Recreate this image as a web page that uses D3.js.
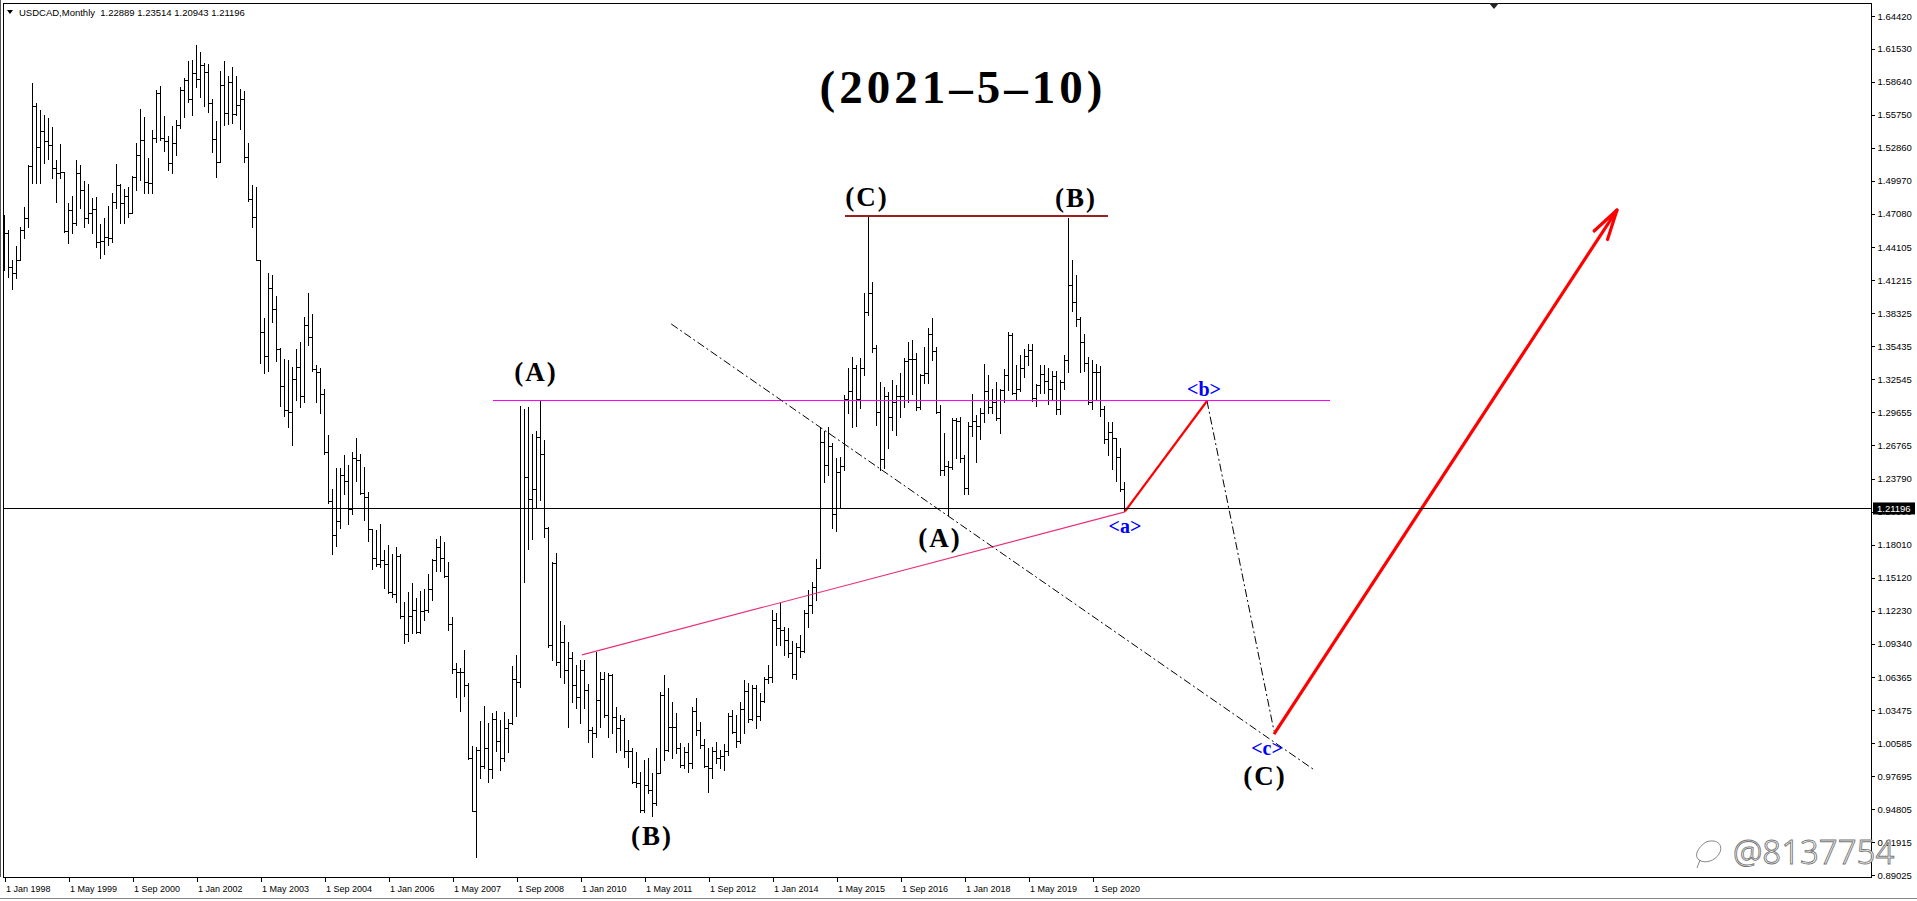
<!DOCTYPE html>
<html><head><meta charset="utf-8">
<script src="https://cdn.jsdelivr.net/npm/d3@7"></script>
<style>html,body{margin:0;padding:0;background:#fff;overflow:hidden}</style>
</head><body>
<svg id="c" width="1917" height="901"></svg>
<script>
// ---- data: USDCAD monthly bars, Jan 1998 .. May 2021 ----
const symbolTitle = "USDCAD,Monthly";
const lastQuote = [1.22889, 1.23514, 1.20943, 1.21196];
const opens = [
1.4290,1.4540,1.4238,1.4183,1.4300,1.4564,1.4666,1.5125,1.5652,1.5295,1.5433,1.5345,
1.5310,1.5105,1.5060,1.5076,1.4555,1.4740,1.4628,1.5061,1.4915,1.4672,1.4716,1.4745,
1.4461,1.4467,1.4499,1.4490,1.4812,1.4959,1.4798,1.4865,1.4716,1.5030,1.5222,1.5354,
1.4988,1.4973,1.5368,1.5769,1.5370,1.5345,1.5155,1.5330,1.5485,1.5792,1.5880,1.5711,
1.5939,1.5886,1.6012,1.5948,1.5681,1.5359,1.5163,1.5836,1.5588,1.5865,1.5582,1.5661,
1.5711,1.5207,1.4833,1.4675,1.4300,1.3670,1.3458,1.4052,1.3868,1.3520,1.3191,1.2983,
1.2965,1.3260,1.3364,1.3104,1.3729,1.3625,1.3347,1.3319,1.3121,1.2618,1.2184,1.1889,
1.2011,1.2410,1.2358,1.2115,1.2566,1.2549,1.2254,1.2219,1.1941,1.1688,1.1629,1.1664,
1.1630,1.1386,1.1369,1.1698,1.1178,1.1022,1.1178,1.1230,1.1039,1.1223,1.1230,1.1410,
1.1664,1.1785,1.1681,1.1525,1.1108,1.0709,1.0682,1.0682,1.0571,0.9928,0.9460,1.0000,
0.9859,1.0020,0.9830,1.0270,1.0080,0.9930,1.0190,1.0240,1.0620,1.0600,1.2125,1.2393,
1.2202,1.2289,1.2750,1.2600,1.1945,1.0920,1.1638,1.0775,1.0950,1.0702,1.0810,1.0570,
1.0468,1.0702,1.0526,1.0175,1.0150,1.0438,1.0620,1.0307,1.0660,1.0290,1.0190,1.0260,
0.9990,0.9990,0.9720,0.9706,0.9470,0.9690,0.9648,0.9531,0.9795,1.0480,0.9999,1.0204,
1.0198,1.0020,0.9870,0.9980,0.9882,1.0340,1.0175,1.0043,0.9860,0.9838,0.9990,0.9930,
0.9950,0.9990,1.0300,1.0160,1.0080,1.0360,1.0520,1.0270,1.0540,1.0300,1.0430,1.0620,
1.0640,1.1140,1.1070,1.1050,1.0965,1.0850,1.0670,1.0900,1.0870,1.1200,1.1270,1.1430,
1.1600,1.2700,1.2500,1.2665,1.2070,1.2440,1.2490,1.3080,1.3150,1.3350,1.3080,1.3350,
1.3840,1.4010,1.3530,1.2970,1.2550,1.3110,1.2920,1.3050,1.3110,1.3110,1.3410,1.3430,
1.3430,1.3010,1.3290,1.3310,1.3650,1.3500,1.2970,1.2460,1.2490,1.2480,1.2900,1.2890,
1.2560,1.2300,1.2840,1.2890,1.2840,1.2960,1.3150,1.3010,1.3050,1.2910,1.3160,1.3290,
1.3640,1.3130,1.3170,1.3350,1.3460,1.3510,1.3090,1.3200,1.3300,1.3240,1.3170,1.3280,
1.2990,1.3230,1.3420,1.4080,1.3930,1.3780,1.3580,1.3400,1.3050,1.3320,1.3320,1.2990,
1.2730,1.2790,1.2740,1.2570,1.22889];
const highs = [
1.4695,1.4564,1.4300,1.4423,1.4593,1.4763,1.5134,1.5857,1.5681,1.5617,1.5573,1.5550,
1.5471,1.5178,1.5319,1.5076,1.4798,1.4862,1.5178,1.5134,1.4994,1.4967,1.4841,1.4856,
1.4616,1.4672,1.4777,1.4891,1.5143,1.4967,1.4921,1.4944,1.5040,1.5325,1.5626,1.5553,
1.5193,1.5442,1.5792,1.5827,1.5564,1.5389,1.5477,1.5529,1.5816,1.5895,1.6047,1.6056,
1.6187,1.6126,1.6026,1.6021,1.5711,1.5523,1.5959,1.6047,1.5915,1.5997,1.5915,1.5798,
1.5784,1.5324,1.4959,1.4944,1.4301,1.3791,1.4187,1.4173,1.3982,1.3527,1.3434,1.3423,
1.3364,1.3520,1.3583,1.3798,1.4013,1.3826,1.3382,1.3354,1.3166,1.2764,1.2288,1.2479,
1.2479,1.2590,1.2497,1.2618,1.2736,1.2601,1.2486,1.2264,1.1941,1.1931,1.1987,1.1757,
1.1803,1.1716,1.1778,1.1720,1.1299,1.1386,1.1466,1.1334,1.1396,1.1410,1.1542,1.1674,
1.1848,1.1882,1.1827,1.1646,1.1167,1.0761,1.0716,1.0876,1.0588,1.0033,1.0022,1.0258,
1.0390,1.0241,1.0320,1.0345,1.0265,1.0334,1.0276,1.0737,1.0831,1.3017,1.2995,1.3010,
1.2777,1.2800,1.3066,1.2721,1.1960,1.1653,1.1732,1.1135,1.1097,1.0950,1.0862,1.0746,
1.0790,1.0790,1.0579,1.0204,1.0863,1.0687,1.0687,1.0672,1.0670,1.0380,1.0307,1.0277,
1.0087,1.0014,0.9985,0.9809,0.9912,0.9926,0.9794,1.0014,1.0511,1.0658,1.0540,1.0423,
1.0321,1.0058,1.0029,1.0058,1.0380,1.0453,1.0248,1.0093,1.0014,1.0029,1.0073,0.9999,
1.0050,1.0321,1.0351,1.0307,1.0423,1.0614,1.0585,1.0570,1.0570,1.0497,1.0643,1.0745,
1.1228,1.1199,1.1287,1.1082,1.1067,1.0959,1.0936,1.1009,1.1228,1.1404,1.1477,1.1673,
1.2832,1.2800,1.2835,1.2691,1.2560,1.2574,1.3115,1.3349,1.3452,1.3380,1.3437,1.4008,
1.4690,1.4110,1.3554,1.3233,1.3189,1.3145,1.3247,1.3203,1.3306,1.3437,1.3584,1.3598,
1.3481,1.3300,1.3540,1.3700,1.3790,1.3540,1.3030,1.2780,1.2540,1.2911,1.2915,1.2920,
1.2590,1.2880,1.3120,1.2940,1.3000,1.3390,1.3290,1.3170,1.3230,1.3170,1.3340,1.3665,
1.3660,1.3380,1.3470,1.3520,1.3560,1.3560,1.3210,1.3380,1.3380,1.3350,1.3330,1.3330,
1.3250,1.3470,1.4667,1.4300,1.4170,1.3800,1.3650,1.3450,1.3420,1.3390,1.3370,1.3020,
1.2880,1.2880,1.2740,1.2650,1.23514];
const lows = [
1.4213,1.4154,1.4043,1.4139,1.4300,1.4491,1.4593,1.4979,1.4973,1.4973,1.5149,1.5184,
1.5017,1.4813,1.5017,1.4549,1.4447,1.4540,1.4608,1.4754,1.4593,1.4622,1.4535,1.4417,
1.4315,1.4353,1.4432,1.4461,1.4754,1.4622,1.4622,1.4681,1.4710,1.4915,1.5003,1.4886,
1.4886,1.4891,1.5340,1.5354,1.5260,1.5090,1.5061,1.5222,1.5456,1.5553,1.5690,1.5573,
1.5822,1.5734,1.5652,1.5599,1.5251,1.5026,1.5178,1.5485,1.5494,1.5500,1.5570,1.5447,
1.5163,1.4821,1.4587,1.4300,1.3399,1.3305,1.3330,1.3756,1.3416,1.3017,1.2930,1.2833,
1.2681,1.3069,1.3007,1.3052,1.3555,1.3330,1.3052,1.2958,1.2601,1.2167,1.1716,1.1792,
1.1952,1.2243,1.1986,1.2070,1.2358,1.2243,1.2021,1.1837,1.1584,1.1619,1.1610,1.1421,
1.1376,1.1341,1.1299,1.1160,1.0935,1.0959,1.1029,1.1029,1.1030,1.1143,1.1210,1.1317,
1.1570,1.1570,1.1515,1.1050,1.0674,1.0466,1.0345,1.0473,0.9918,0.9460,0.9061,0.9755,
0.9842,0.9720,0.9755,0.9990,0.9824,0.9900,0.9981,1.0230,1.0300,1.0553,1.1475,1.1760,
1.1850,1.2125,1.2194,1.1872,1.0906,1.0789,1.0746,1.0643,1.0585,1.0204,1.0424,1.0365,
1.0234,1.0365,1.0073,0.9935,1.0116,1.0204,1.0292,1.0116,1.0146,0.9985,1.0000,0.9940,
0.9853,0.9707,0.9678,0.9458,0.9458,0.9619,0.9420,0.9516,0.9794,0.9912,0.9990,0.9926,
0.9970,0.9853,0.9840,0.9809,0.9841,1.0131,1.0014,0.9853,0.9634,0.9751,0.9882,0.9838,
0.9824,0.9956,1.0146,1.0029,1.0058,1.0146,1.0248,1.0263,1.0190,1.0263,1.0420,1.0585,
1.0599,1.0921,1.0921,1.0833,1.0819,1.0628,1.0620,1.0819,1.0863,1.1082,1.1199,1.1316,
1.1600,1.2350,1.2410,1.1950,1.1920,1.2121,1.2457,1.2955,1.2837,1.2840,1.3000,1.3291,
1.3820,1.3496,1.2852,1.2460,1.2472,1.2650,1.2808,1.2765,1.2926,1.3013,1.3057,1.3120,
1.2984,1.2995,1.3220,1.3220,1.3420,1.2960,1.2410,1.2410,1.2061,1.2470,1.2560,1.2530,
1.2250,1.2250,1.2760,1.2530,1.2730,1.2880,1.2960,1.2960,1.2900,1.2780,1.3050,1.3160,
1.3120,1.3070,1.3150,1.3270,1.3380,1.3060,1.3015,1.3130,1.3130,1.3040,1.3070,1.2950,
1.2950,1.3170,1.3320,1.3850,1.3720,1.3320,1.3330,1.3040,1.2990,1.3080,1.2930,1.2690,
1.2590,1.2470,1.2360,1.2270,1.20943];
const closes = [
1.4540,1.4238,1.4183,1.4300,1.4564,1.4666,1.5125,1.5652,1.5295,1.5433,1.5345,1.5310,
1.5105,1.5060,1.5076,1.4555,1.4740,1.4628,1.5061,1.4915,1.4672,1.4716,1.4745,1.4461,
1.4467,1.4499,1.4490,1.4812,1.4959,1.4798,1.4865,1.4716,1.5030,1.5222,1.5354,1.4988,
1.4973,1.5368,1.5769,1.5370,1.5345,1.5155,1.5330,1.5485,1.5792,1.5880,1.5711,1.5939,
1.5886,1.6012,1.5948,1.5681,1.5359,1.5163,1.5836,1.5588,1.5865,1.5582,1.5661,1.5711,
1.5207,1.4833,1.4675,1.4300,1.3670,1.3458,1.4052,1.3868,1.3520,1.3191,1.2983,1.2965,
1.3260,1.3364,1.3104,1.3729,1.3625,1.3347,1.3319,1.3121,1.2618,1.2184,1.1889,1.2011,
1.2410,1.2358,1.2115,1.2566,1.2549,1.2254,1.2219,1.1941,1.1688,1.1629,1.1664,1.1630,
1.1386,1.1369,1.1698,1.1178,1.1022,1.1178,1.1230,1.1039,1.1223,1.1230,1.1410,1.1664,
1.1785,1.1681,1.1525,1.1108,1.0709,1.0682,1.0682,1.0571,0.9928,0.9460,1.0000,0.9859,
1.0020,0.9830,1.0270,1.0080,0.9930,1.0190,1.0240,1.0620,1.0600,1.2125,1.2393,1.2202,
1.2289,1.2750,1.2600,1.1945,1.0920,1.1638,1.0775,1.0950,1.0702,1.0810,1.0570,1.0468,
1.0702,1.0526,1.0175,1.0150,1.0438,1.0620,1.0307,1.0660,1.0290,1.0190,1.0260,0.9990,
0.9990,0.9720,0.9706,0.9470,0.9690,0.9648,0.9531,0.9795,1.0480,0.9999,1.0204,1.0198,
1.0020,0.9870,0.9980,0.9882,1.0340,1.0175,1.0043,0.9860,0.9838,0.9990,0.9930,0.9950,
0.9990,1.0300,1.0160,1.0080,1.0360,1.0520,1.0270,1.0540,1.0300,1.0430,1.0620,1.0640,
1.1140,1.1070,1.1050,1.0965,1.0850,1.0670,1.0900,1.0870,1.1200,1.1270,1.1430,1.1600,
1.2700,1.2500,1.2665,1.2070,1.2440,1.2490,1.3080,1.3150,1.3350,1.3080,1.3350,1.3840,
1.4010,1.3530,1.2970,1.2550,1.3110,1.2920,1.3050,1.3110,1.3110,1.3410,1.3430,1.3430,
1.3010,1.3290,1.3310,1.3650,1.3500,1.2970,1.2460,1.2490,1.2480,1.2900,1.2890,1.2560,
1.2300,1.2840,1.2890,1.2840,1.2960,1.3150,1.3010,1.3050,1.2910,1.3160,1.3290,1.3640,
1.3130,1.3170,1.3350,1.3460,1.3510,1.3090,1.3200,1.3300,1.3240,1.3170,1.3280,1.2990,
1.3230,1.3420,1.4080,1.3930,1.3780,1.3580,1.3400,1.3050,1.3320,1.3320,1.2990,1.2730,
1.2790,1.2740,1.2570,1.22889,1.21196];

const priceTicks = [1.64420,1.61530,1.58640,1.55750,1.52860,1.49970,1.47080,1.44105,1.41215,
  1.38325,1.35435,1.32545,1.29655,1.26765,1.23790,1.20900,1.18010,1.15120,1.12230,1.09340,
  1.06365,1.03475,1.00585,0.97695,0.94805,0.91915,0.89025];
const timeTickBars = [0,16,32,48,64,80,96,112,128,144,160,176,192,208,224,240,256,272];
const timeTickLabels = ["1 Jan 1998","1 May 1999","1 Sep 2000","1 Jan 2002","1 May 2003",
  "1 Sep 2004","1 Jan 2006","1 May 2007","1 Sep 2008","1 Jan 2010","1 May 2011","1 Sep 2012",
  "1 Jan 2014","1 May 2015","1 Sep 2016","1 Jan 2018","1 May 2019","1 Sep 2020"];

// annotation objects in (bar index, price)
const magentaLine = [[122.25, 1.3063], [331.5, 1.3063]];
const topLine = [[210.25, 1.4690], [276, 1.4690]];
const pinkTrend = [[144.5, 1.0834], [280.25, 1.2090]];
const dashDot1 = [[166.8, 1.3739], [327.6, 0.9824]];
const dashDot2 = [[300.75, 1.3063], [317.5, 1.0166]];
const redAB = [[280.25, 1.2094], [300.75, 1.3063]];
const redArrow = [[317.5, 1.0140], [403.25, 1.4739]];
const waveLabels = [
  {t:"(A)", b:133, p:1.3317}, {t:"(B)", b:162, p:0.9245},
  {t:"(C)", b:215.75, p:1.4853}, {t:"(B)", b:268, p:1.4844},
  {t:"(A)", b:234, p:1.1860}, {t:"(C)", b:315.25, p:0.9772}];
const subLabels = [{t:"<a>", b:280.25, p:1.1966}, {t:"<b>", b:300, p:1.3168}, {t:"<c>", b:315.75, p:1.0020}];
const titleText = "(2021\u20135\u201310)";

// ---- layout ----
const W = 1917, H = 901;
const plotL = 3, plotR = 1871, plotT = 3, plotB = 877;
const svg = d3.select("#c");
svg.append("rect").attr("width", W).attr("height", H).attr("fill", "#fff");

const x = d3.scaleLinear().domain([0, 466.75]).range([4, 1871]);
const y = d3.scaleLinear().domain([0.89025, 1.64420]).range([875, 16]);

svg.append("clipPath").attr("id", "plot").append("rect")
  .attr("x", plotL).attr("y", plotT).attr("width", plotR - plotL).attr("height", plotB - plotT);

const bars = svg.append("g").attr("clip-path", "url(#plot)")
  .attr("stroke", "#000").attr("stroke-width", 1).attr("shape-rendering", "crispEdges");
const idx = d3.range(closes.length);
const px = i => Math.round(x(i)) + 0.5;
const py = v => Math.round(y(v)) + 0.5;
bars.selectAll("line.hl").data(idx).join("line").attr("class", "hl")
  .attr("x1", px).attr("x2", px)
  .attr("y1", i => Math.round(y(Math.max(highs[i], opens[i], closes[i]))))
  .attr("y2", i => Math.round(y(Math.min(lows[i], opens[i], closes[i]))) + 1);
bars.selectAll("line.o").data(idx).join("line").attr("class", "o")
  .attr("x1", i => px(i) - 2.5).attr("x2", i => px(i))
  .attr("y1", i => py(opens[i])).attr("y2", i => py(opens[i]));
bars.selectAll("line.c").data(idx).join("line").attr("class", "c")
  .attr("x1", i => px(i)).attr("x2", i => px(i) + 2.5)
  .attr("y1", i => py(closes[i])).attr("y2", i => py(closes[i]));

// annotations
const ann = svg.append("g").attr("clip-path", "url(#plot)");
const seg = (pts, color, w, dash) => {
  const l = ann.append("line")
    .attr("x1", x(pts[0][0])).attr("y1", y(pts[0][1]))
    .attr("x2", x(pts[1][0])).attr("y2", y(pts[1][1]))
    .attr("stroke", color).attr("stroke-width", w);
  if (dash) l.attr("stroke-dasharray", dash);
  return l;
};
seg(magentaLine, "#ff00ff", 1).attr("shape-rendering", "crispEdges");
seg(topLine, "#9b2020", 2).attr("shape-rendering", "crispEdges");
seg(pinkTrend, "#e8317a", 1.2);
seg(dashDot1, "#000", 1, "8,3,2,3");
seg(dashDot2, "#000", 1, "8,3,2,3");
seg(redAB, "#ff0000", 2.2);
seg(redArrow, "#ff0000", 3.2);
{
  const tip = [x(redArrow[1][0]), y(redArrow[1][1])];
  const tail = [x(redArrow[0][0]), y(redArrow[0][1])];
  const a = Math.atan2(tail[1] - tip[1], tail[0] - tip[0]);
  [0.25, -0.27].forEach(d => {
    ann.append("line").attr("x1", tip[0]).attr("y1", tip[1])
      .attr("x2", tip[0] + 31 * Math.cos(a + d)).attr("y2", tip[1] + 31 * Math.sin(a + d))
      .attr("stroke", "#ff0000").attr("stroke-width", 3.2).attr("stroke-linecap", "round");
  });
}

// current price line
svg.append("line").attr("x1", plotL).attr("x2", plotR)
  .attr("y1", py(lastQuote[3])).attr("y2", py(lastQuote[3]))
  .attr("stroke", "#000").attr("stroke-width", 1).attr("shape-rendering", "crispEdges");

// labels
const serif = "'Liberation Serif','Times New Roman',serif";
svg.append("g").selectAll("text").data(waveLabels).join("text")
  .attr("x", d => x(d.b)).attr("y", d => y(d.p))
  .attr("text-anchor", "middle").attr("dominant-baseline", "central")
  .attr("font-family", serif).attr("font-weight", "bold").attr("font-size", 27)
  .attr("letter-spacing", 2).attr("fill", "#000").text(d => d.t);
svg.append("g").selectAll("text").data(subLabels).join("text")
  .attr("x", d => x(d.b)).attr("y", d => y(d.p))
  .attr("text-anchor", "middle").attr("dominant-baseline", "central")
  .attr("font-family", serif).attr("font-weight", "bold").attr("font-size", 20)
  .attr("fill", "#0000ff").text(d => d.t);
svg.append("text").attr("x", 963).attr("y", 103).attr("text-anchor", "middle")
  .attr("font-family", serif).attr("font-weight", "bold").attr("font-size", 47)
  .attr("letter-spacing", 4).attr("fill", "#000").text(titleText);

// frame
const sans = "'Liberation Sans',Tahoma,Arial,sans-serif";
svg.append("rect").attr("x", plotL + 0.5).attr("y", plotT + 0.5)
  .attr("width", plotR - plotL).attr("height", plotB - plotT)
  .attr("fill", "none").attr("stroke", "#000").attr("shape-rendering", "crispEdges");
svg.append("line").attr("x1", 0.5).attr("x2", 0.5).attr("y1", 0).attr("y2", plotB)
  .attr("stroke", "#555").attr("shape-rendering", "crispEdges");
svg.append("line").attr("x1", 0).attr("x2", W).attr("y1", 898.5).attr("y2", 898.5)
  .attr("stroke", "#888").attr("shape-rendering", "crispEdges");
svg.append("path").attr("d", "M1489,3 L1499,3 L1494,9 Z").attr("fill", "#222");

// header
svg.append("path").attr("d", "M7,10 L13,10 L10,14 Z").attr("fill", "#000");
svg.append("text").attr("x", 19).attr("y", 15.5).attr("font-family", sans).attr("font-size", 9.5)
  .attr("fill", "#000").attr("xml:space", "preserve")
  .text(symbolTitle + "  " + lastQuote.map(v => v.toFixed(5)).join(" "));

// price axis
const yAxis = d3.axisRight(y).tickValues(priceTicks).tickFormat(d3.format(".5f"))
  .tickSize(3).tickPadding(3);
const ya = svg.append("g").attr("transform", `translate(${plotR + 0.5},0)`).call(yAxis);
ya.select(".domain").remove();
ya.selectAll("text").attr("font-family", sans).attr("font-size", 9.5).attr("fill", "#000");
ya.selectAll("line").attr("stroke", "#000").attr("shape-rendering", "crispEdges");

// current price box
const cy = y(lastQuote[3]);
svg.append("rect").attr("x", plotR + 2).attr("y", cy - 6).attr("width", 42).attr("height", 12).attr("fill", "#000");
svg.append("text").attr("x", plotR + 6).attr("y", cy + 3.5).attr("font-family", sans).attr("font-size", 9.5)
  .attr("fill", "#fff").text(lastQuote[3].toFixed(5));

// time axis
const xAxis = d3.axisBottom(x).tickValues(timeTickBars).tickFormat((d, k) => timeTickLabels[k])
  .tickSize(5).tickPadding(2);
const xa = svg.append("g").attr("transform", `translate(0.5,${plotB})`).call(xAxis);
xa.select(".domain").remove();
xa.selectAll("text").attr("text-anchor", "start").attr("x", 1).attr("dy", "0.9em")
  .attr("font-family", sans).attr("font-size", 9).attr("fill", "#000");
xa.selectAll("line").attr("stroke", "#000").attr("shape-rendering", "crispEdges");

// watermark
const wm = svg.append("g").attr("fill", "#fff").attr("stroke", "#777").attr("stroke-width", 0.9);
wm.append("path").attr("d", "M1706,842 C1718,838 1724,846 1719,854 C1715,861 1705,864 1699,860 C1694,856 1697,848 1706,842 Z M1700,860 L1697,868");
wm.append("text").attr("x", 1733).attr("y", 864).attr("font-family", "'Noto Sans',sans-serif")
  .attr("font-weight", 300).attr("font-size", 33).text("@8137754");
</script>
</body></html>
